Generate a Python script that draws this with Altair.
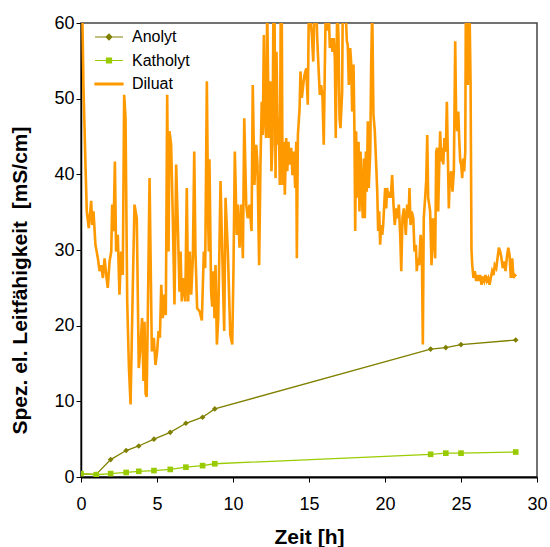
import altair as alt
import pandas as pd

series_names = ["Anolyt", "Katholyt", "Diluat"]
series_colors = ["#808000", "#99CC00", "#FF9900"]

# sampling times of anolyte / catholyte [h]
probe_time = [0, 1.0, 1.95, 2.97, 3.8, 4.8, 5.87, 6.9, 8.0, 8.8, 23.0, 24.0, 25.0, 28.6]
anolyt = [0.4, 0.35, 2.3, 3.5, 4.1, 5.0, 5.9, 7.1, 7.9, 9.0, 16.9, 17.1, 17.5, 18.1]
katholyt = [0.45, 0.3, 0.45, 0.6, 0.75, 0.85, 1.0, 1.3, 1.5, 1.75, 3.0, 3.15, 3.15, 3.3]

# diluate conductivity trace [h], [mS/cm]
diluat_time = [
    0.08, 0.16, 0.3, 0.38, 0.51, 0.67, 0.74, 0.82, 0.95, 1.11, 1.22, 1.33, 1.44, 1.55, 1.66, 1.76,
    1.88, 1.99, 2.05, 2.14, 2.23, 2.31, 2.42, 2.53, 2.64, 2.75, 2.84, 2.93, 3.04, 3.15, 3.26, 3.41,
    3.52, 3.67, 3.8, 3.89, 4.02, 4.11,
    4.18, 4.25, 4.32, 4.4, 4.51, 4.66, 4.79, 4.9, 5.01, 5.1, 5.19, 5.28, 5.38, 5.49, 5.58, 5.67,
    5.76, 5.82, 5.93, 6.04, 6.15, 6.26, 6.37, 6.48, 6.55, 6.63, 6.76, 6.86, 6.96, 7.05, 7.16, 7.25,
    7.36, 7.45, 7.53, 7.64, 7.8, 7.95, 8.08, 8.17, 8.28, 8.37, 8.41, 8.45,
    8.56, 8.63, 8.72, 8.78, 8.85, 8.94, 9.03, 9.18, 9.29, 9.42, 9.51, 9.66, 9.82, 9.95, 10.03, 10.12,
    10.25, 10.32, 10.43, 10.54, 10.65, 10.74, 10.87, 10.97, 11.09, 11.22, 11.3, 11.41, 11.53, 11.61,
    11.72, 11.81, 11.89, 11.96, 12.03, 12.09, 12.18, 12.25, 12.36, 12.45, 12.53, 12.6, 12.66,
    12.73, 12.8, 12.86, 12.95, 13.01, 13.08, 13.14, 13.21, 13.26, 13.34, 13.41, 13.5, 13.57, 13.65,
    13.72, 13.83, 13.91, 14.0, 14.09, 14.16, 14.2, 14.27, 14.38, 14.44, 14.53, 14.62, 14.7, 14.82,
    14.92, 14.99, 15.1, 15.19, 15.28, 15.36, 15.47, 15.54, 15.63, 15.71, 15.8, 15.89, 15.97, 16.04,
    16.11, 16.2, 16.28, 16.37, 16.46, 16.55, 16.63, 16.7, 16.76, 16.86, 16.94, 17.01,
    17.07, 17.18, 17.22, 17.32, 17.4, 17.49, 17.55, 17.62, 17.71, 17.78, 17.84, 17.93, 17.99, 18.04,
    18.1, 18.17, 18.26, 18.32, 18.39, 18.45, 18.54, 18.61, 18.67, 18.74, 18.8, 18.87, 18.93, 19.03,
    19.09, 19.16, 19.24, 19.33, 19.42, 19.49, 19.55, 19.62, 19.68, 19.75, 19.82, 19.88, 19.95, 20.01,
    20.08, 20.14, 20.21, 20.3, 20.38, 20.47, 20.56, 20.64, 20.74, 20.82, 20.91, 21.0, 21.07, 21.15,
    21.24,
    21.28, 21.37, 21.46, 21.55, 21.61, 21.68, 21.76, 21.86, 21.94, 22.03, 22.09, 22.16, 22.25, 22.34,
    22.42, 22.49, 22.55, 22.64, 22.71, 22.78, 22.84, 22.91, 22.97, 23.06, 23.15, 23.21, 23.3, 23.37,
    23.43, 23.5, 23.57, 23.63, 23.7, 23.76, 23.83, 23.91, 24.0, 24.07, 24.13, 24.2, 24.26, 24.36,
    24.44, 24.53, 24.62, 24.68, 24.75, 24.82, 24.88, 24.95, 25.01, 25.08, 25.14, 25.21, 25.28, 25.32,
    25.41, 25.45, 25.49,
    25.56, 25.63, 25.69, 25.74, 25.82, 25.91, 26.0, 26.09, 26.17, 26.26, 26.35, 26.43, 26.53, 26.61,
    26.7, 26.79, 26.88, 26.96, 27.05, 27.14, 27.22, 27.32, 27.4, 27.49, 27.58, 27.66, 27.75, 27.84,
    27.93, 28.01, 28.11, 28.19, 28.28, 28.37, 28.45, 28.54, 28.63,
]
diluat = [
    62, 51.8, 40.8, 35.1, 32.9, 36.5, 33.3, 35.1, 30.7, 28.9, 27.2, 28, 26.3, 28.9, 26.7, 25,
    28.5, 29.8, 36, 32.5, 41.7, 29.8, 32, 24.1, 29.8, 26.7, 50.5, 47.4, 23.2, 14.6, 9.6, 25.4,
    36, 34.2, 14.4, 16.6, 21, 12.7,
    20.5, 11, 10.6, 22, 39.5, 16.6, 18.4, 14.8, 16.6, 19.3, 18.4, 25.4, 21, 24.1, 21.4, 50.5,
    29.8, 45.7, 43.9, 34.2, 22.8, 41.3, 33.3, 24.5, 29.8, 23.2, 26.3, 23.2, 38.2, 23.2, 29.8, 24.1,
    28.9, 43, 29.8, 22.3, 21.9, 20.7, 29.8, 27.6, 52.3, 33.3, 29.8, 42,
    24.5, 22.5, 27.2, 21, 28, 17.5, 21, 39.1, 29.8, 19.3, 36.9, 29.8, 18.8, 17.5, 27.2, 43,
    32, 36, 30.3, 36, 28.9, 47.4, 36, 34.2, 36, 32.5, 51.8, 38.6, 43.9, 41.3,
    28, 41.7, 49.6, 45.2, 58.4, 48.3, 44.8, 62, 44.8, 52.3, 40.4, 44, 62,
    62, 39.5, 56.2, 43.9, 47.4, 38.6, 62, 61, 38.6, 44.3, 37.3, 44.8, 40.4, 44.3,
    41.3, 43.5, 39.9, 43, 38.2, 44.3, 28.9, 45.2, 48.7, 53.6, 50.1, 51.8, 53.1, 54,
    49.2, 62, 60.5, 58.4, 54.9, 62, 63, 58, 54, 50.5, 51.8, 50.1, 43.9, 54,
    63, 59, 63, 56.7, 58, 56.2, 58, 55.3, 44.8, 63, 58, 47.4,
    46.1, 50.9, 62, 60, 62, 57.6, 57.1, 51.8, 56.7, 54.5, 48.3, 54.5, 45.7, 32.5,
    45.7, 36.9, 44.3, 35.1, 43, 38.6, 34.2, 42.1, 34.2, 43, 37.7, 47, 38.2, 43,
    54.5, 62, 47.9, 45.7, 41.3, 37.7, 32.5, 35.1, 30.7, 33.3, 32, 33.3, 36, 38.2,
    35.5, 38.2, 36.9, 37.7, 36.9, 39.9, 36, 33.3, 35.5, 34.2, 36, 32, 27.2, 34.2,
    35.5,
    34.7, 32, 36, 34.2, 38.2, 33.3, 35.1, 34.2, 29.8, 30.7, 27.2, 28.9, 28, 32,
    30.7, 17.5, 34.2, 36.9, 39.1, 45.2, 36.9, 36, 35.1, 28, 34.2, 31.6, 28.9, 43,
    43.5, 35.1, 41.3, 45.7, 41.7, 43.5, 41.3, 44.8, 43, 49.6, 43, 35.5, 39.5, 40.4,
    37.7, 40.4, 57.6, 47.4, 45.7, 48.3, 44.8, 41.7, 41.3, 39.5, 42.1, 40.4, 43, 63,
    60, 51.8, 63,
    62, 52, 30, 28, 26.3, 27.2, 25.9, 26.7, 25.9, 26.7, 25.4, 26.5, 25.9, 26.7,
    25.9, 26.3, 25.4, 26.3, 27.2, 26.7, 28, 27.6, 28.9, 30.3, 29.8, 28.9, 27.6, 28.5,
    27.2, 28.9, 30.3, 29.4, 26.3, 28.9, 26.3, 26.7, 26.5,
]

x_ticks = [0, 5, 10, 15, 20, 25, 30]
y_ticks = [0, 10, 20, 30, 40, 50, 60]

rows = []
for t, v in zip(probe_time, anolyt):
    rows.append({"t": t, "v": v, "s": "Anolyt"})
for t, v in zip(probe_time, katholyt):
    rows.append({"t": t, "v": v, "s": "Katholyt"})
for t, v in zip(diluat_time, diluat):
    rows.append({"t": t, "v": v, "s": "Diluat"})
df = pd.DataFrame(rows)

FONT = "Liberation Sans"

legend_paths = {
    "Anolyt": "M-1.4,0H1.4M-0.28,0L0,-0.28L0.28,0L0,0.28Z",
    "Katholyt": "M-1.4,0H1.4M-0.25,-0.25H0.25V0.25H-0.25Z",
    "Diluat": "M-1.4,-0.1H1.4V0.1H-1.4Z",
}
shape_expr = " : ".join(f"datum.value === '{n}' ? '{legend_paths[n]}'" for n in series_names) + " : 'circle'"
fill_expr = " : ".join(f"datum.value === '{n}' ? '{c}'" for n, c in zip(series_names, series_colors)) + " : 'black'"

color_scale = alt.Scale(domain=series_names, range=series_colors)

legend = alt.Legend(
    title=None,
    orient="none",
    legendX=17,
    legendY=3,
    padding=0,
    symbolType=alt.ExprRef(expr=shape_expr),
    symbolFillColor=alt.ExprRef(expr=fill_expr),
    symbolSize=400,
    symbolStrokeWidth=1.2,
    labelFont=FONT,
    labelFontSize=16,
    labelColor="black",
    labelOffset=12,
    rowPadding=4.5,
    labelLimit=300,
)

x_enc = alt.X(
    "t:Q",
    scale=alt.Scale(domain=[0, 30], nice=False),
    axis=alt.Axis(
        values=x_ticks, title="Zeit [h]", grid=False, tickSize=5, tickColor="black",
        domainColor="black", domainWidth=2, labelFont=FONT, labelFontSize=18,
        labelColor="black", labelPadding=13, labelFlush=False,
        titleFont=FONT, titleFontSize=21, titleFontWeight="bold", titleColor="black",
        titleX=228, titleY=66, titleBaseline="alphabetic",
    ),
)
y_enc = alt.Y(
    "v:Q",
    scale=alt.Scale(domain=[0, 60], nice=False),
    axis=alt.Axis(
        values=y_ticks, title="Spez. el. Leitfähigkeit\u00a0 [mS/cm]", grid=False, tickSize=5,
        tickColor="black", domainColor="black", domainWidth=1.5, labelFont=FONT,
        labelFontSize=18, labelColor="black", labelPadding=2,
        titleFont=FONT, titleFontSize=21, titleFontWeight="bold", titleColor="black",
        titleAngle=270, titleX=-55, titleY=257, titleAlign="center", titleBaseline="alphabetic",
    ),
)

lines = (
    alt.Chart(df)
    .transform_calculate(sw="datum.s === 'Diluat' ? 2.6 : 1.3")
    .mark_line(clip=True)
    .encode(
        x=x_enc,
        y=y_enc,
        color=alt.Color("s:N", scale=color_scale, legend=legend),
        strokeWidth=alt.StrokeWidth("sw:Q", scale=None, legend=None),
        order="t:Q",
    )
)

points = (
    alt.Chart(df)
    .transform_filter("datum.s !== 'Diluat'")
    .mark_point(filled=True, opacity=1, size=32, clip=True)
    .encode(
        x="t:Q",
        y="v:Q",
        color=alt.Color("s:N", scale=color_scale, legend=None),
        shape=alt.Shape("s:N", scale=alt.Scale(domain=["Anolyt", "Katholyt"], range=["diamond", "square"]), legend=None),
    )
)

chart = (
    alt.layer(lines, points)
    .properties(
        width=456,
        height=454,
        padding={"left": 81, "top": 23, "right": 13, "bottom": 70},
        autosize=alt.AutoSizeParams(type="none"),
        background="white",
    )
    .configure_view(stroke="#444444", strokeWidth=1.5)
)

chart.save("out.html", embed_options={"renderer": "svg", "actions": False})
